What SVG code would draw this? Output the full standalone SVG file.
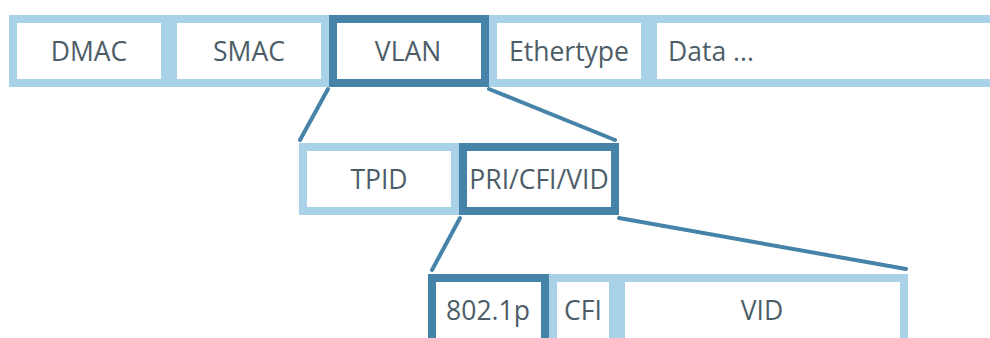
<svg xmlns="http://www.w3.org/2000/svg" width="990" height="338" viewBox="0 0 990 338">
<style>
.lt{fill:#ffffff;stroke:#a9d1e8;stroke-width:8}
.dk{fill:#ffffff;stroke:#4683a9;stroke-width:8}
.t{font-family:"Open Sans","Noto Sans",sans-serif;font-size:26.5px;fill:#4d5d68;text-anchor:middle}
.c{stroke:#4683a9;stroke-width:4;stroke-linecap:round;fill:none}
</style>
<rect width="990" height="338" fill="#ffffff"/>
<g id="dmac"><rect class="lt" x="13" y="19" width="152" height="64"/><text class="t" x="89" y="61">DMAC</text></g>
<g id="smac"><rect class="lt" x="173" y="19" width="152" height="64"/><text class="t" x="249" y="61">SMAC</text></g>
<g id="ethertype"><rect class="lt" x="493" y="19" width="152" height="64"/><text class="t" x="569" y="61">Ethertype</text></g>
<g id="data"><rect class="lt" x="653" y="19" width="360" height="64"/><text class="t" x="668" y="61" style="text-anchor:start">Data ...</text></g>
<g id="vlan"><rect class="dk" x="333" y="19" width="152" height="64"/><text class="t" x="408" y="61">VLAN</text></g>
<g id="tpid"><rect class="lt" x="303" y="147" width="152" height="64"/><text class="t" x="379" y="189">TPID</text></g>
<g id="pri"><rect class="dk" x="463" y="147" width="152" height="64"/><text class="t" x="539" y="189">PRI/CFI/VID</text></g>
<g id="cfi"><rect class="lt" x="553" y="278" width="60" height="64"/><text class="t" x="583" y="320">CFI</text></g>
<g id="vid"><rect class="lt" x="621" y="278" width="283" height="64"/><text class="t" x="762" y="320">VID</text></g>
<g id="p8021"><rect class="dk" x="432" y="278" width="113" height="64"/><text class="t" x="488" y="320">802.1p</text></g>
<g id="connectors">
<line class="c" x1="328" y1="89" x2="300" y2="140"/>
<line class="c" x1="489" y1="89" x2="615" y2="140"/>
<line class="c" x1="460" y1="218" x2="432" y2="270"/>
<line class="c" x1="619" y1="218" x2="906" y2="269"/>
</g>
</svg>
